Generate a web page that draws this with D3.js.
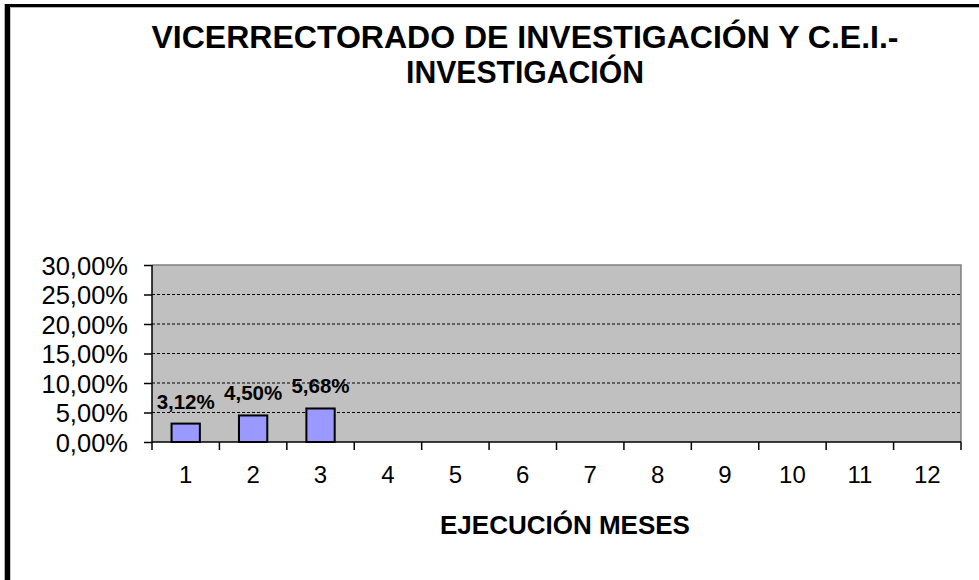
<!DOCTYPE html>
<html><head><meta charset="utf-8">
<script src="https://cdn.jsdelivr.net/npm/d3@7"></script>
<style>html,body{margin:0;padding:0;background:#fff;}svg{display:block;}</style>
</head><body>
<svg id="c" width="979" height="580"></svg>
<script>
const titleLines = ["VICERRECTORADO DE INVESTIGACIÓN Y C.E.I.-", "INVESTIGACIÓN"];
const xTitle = "EJECUCIÓN MESES";
const months = ["1","2","3","4","5","6","7","8","9","10","11","12"];
const values = [3.12, 4.50, 5.68];
const yTicks = [0, 5, 10, 15, 20, 25, 30];

const svg = d3.select("#c");
const font = "'Liberation Sans', Arial, sans-serif";
const L = 152, R = 961, T = 265, B = 442;

// frame
svg.append("rect").attr("x", 5).attr("y", 4).attr("width", 974).attr("height", 3.3).attr("fill", "#000");
svg.append("rect").attr("x", 4.7).attr("y", 4).attr("width", 5.3).attr("height", 576).attr("fill", "#000");
svg.append("rect").attr("x", 10).attr("y", 7.3).attr("width", 1).attr("height", 573).attr("fill", "#c8c8c8");

const x = d3.scaleBand().domain(months).range([L, R]).paddingInner(0.58).paddingOuter(0.29);
const xb = d3.scaleBand().domain(months).range([L, R]);
const y = d3.scaleLinear().domain([0, 30]).range([B, T]);

// plot area
svg.append("rect").attr("x", L).attr("y", T).attr("width", R - L).attr("height", B - T).attr("fill", "#c0c0c0");

// gridlines
svg.append("g").selectAll("line").data(yTicks.filter(d => d > 0 && d < 30)).join("line")
  .attr("x1", L).attr("x2", R).attr("y1", d => y(d)).attr("y2", d => y(d))
  .attr("stroke", "#000").attr("stroke-width", 1).attr("stroke-dasharray", "3,2");

// border top/right
svg.append("path").attr("d", `M${L},${T}H${R}V${B}`).attr("fill", "none").attr("stroke", "#808080").attr("stroke-width", 1.5);

// bars
svg.append("g").selectAll("rect").data(values).join("rect")
  .attr("x", (d, i) => x(months[i])).attr("width", x.bandwidth())
  .attr("y", d => y(d)).attr("height", d => B - y(d))
  .attr("fill", "#9999ff").attr("stroke", "#000").attr("stroke-width", 2);

// data labels
svg.append("g").selectAll("text").data(values).join("text")
  .attr("x", (d, i) => x(months[i]) + x.bandwidth() / 2)
  .attr("y", d => y(d) - 15)
  .attr("text-anchor", "middle").attr("font-family", font).attr("font-weight", "bold").attr("font-size", 20.5)
  .attr("fill", "#000")
  .text(d => d.toFixed(2).replace(".", ",") + "%");

// y axis
const yAxis = d3.axisLeft(y).tickValues(yTicks).tickSize(8).tickPadding(16)
  .tickFormat(d => d.toFixed(2).replace(".", ",") + "%");
const gy = svg.append("g").attr("transform", `translate(${L},0)`).call(yAxis);
gy.select(".domain").attr("stroke", "#000").attr("stroke-width", 1.5).attr("d", `M0,${T}V${B}`);
gy.selectAll(".tick line").attr("stroke", "#000").attr("stroke-width", 1.5);
gy.selectAll(".tick text").attr("font-family", font).attr("font-size", 25.5).attr("fill", "#000").attr("dy", "0.36em");

// x axis
const gx = svg.append("g").attr("transform", `translate(0,${B})`);
gx.append("line").attr("x1", L).attr("x2", R).attr("stroke", "#000").attr("stroke-width", 1.5);
const bounds = months.map(m => xb(m)).concat([R]);
gx.selectAll("line.t").data(bounds).join("line").attr("class", "t")
  .attr("x1", d => d).attr("x2", d => d).attr("y1", 0).attr("y2", 8)
  .attr("stroke", "#000").attr("stroke-width", 1.5);
gx.selectAll("text").data(months).join("text")
  .attr("x", d => xb(d) + xb.bandwidth() / 2).attr("y", 41)
  .attr("text-anchor", "middle").attr("font-family", font).attr("font-size", 24).attr("fill", "#000")
  .text(d => d);

// axis title
svg.append("text").attr("x", 565).attr("y", 534).attr("text-anchor", "middle")
  .attr("font-family", font).attr("font-weight", "bold").attr("font-size", 26).attr("fill", "#000")
  .text(xTitle);

// title
const titleLen = [747, 238];
svg.append("g").selectAll("text").data(titleLines).join("text")
  .attr("x", 525).attr("y", (d, i) => 48 + i * 35).attr("text-anchor", "middle")
  .attr("font-family", font).attr("font-weight", "bold").attr("font-size", 31).attr("fill", "#000")
  .attr("textLength", (d, i) => titleLen[i]).attr("lengthAdjust", "spacingAndGlyphs")
  .text(d => d);
</script>
</body></html>
